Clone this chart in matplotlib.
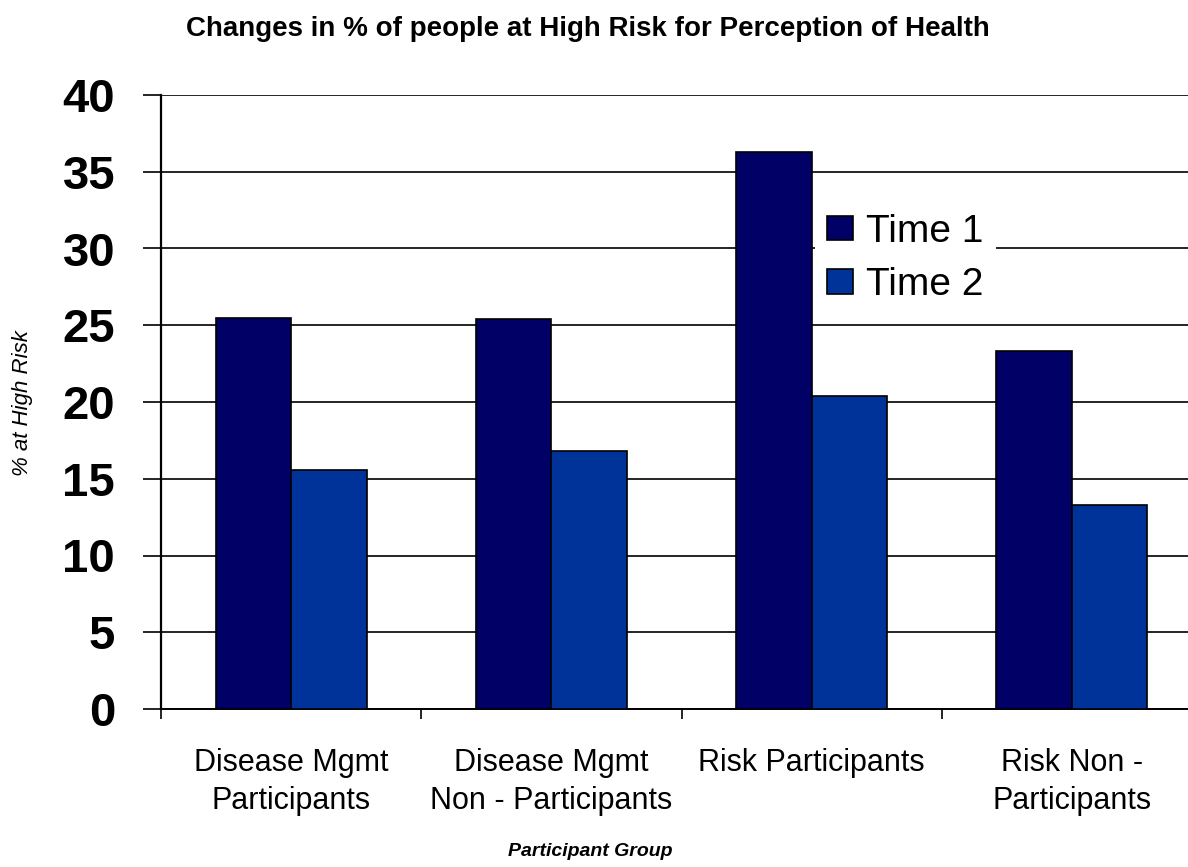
import matplotlib
matplotlib.use("Agg")
import matplotlib.pyplot as plt
import numpy as np
from matplotlib.ticker import FixedLocator, NullFormatter

# Survey results: percentage of people at high risk for perception of health
groups = ["Disease Mgmt\nParticipants", "Disease Mgmt\nNon - Participants",
          "Risk Participants", "Risk Non -\nParticipants"]
series_names = ["Time 1", "Time 2"]
time1 = [25.5, 25.4, 36.3, 23.3]
time2 = [15.6, 16.8, 20.4, 13.3]
y_ticks = [0, 5, 10, 15, 20, 25, 30, 35, 40]

colors = ["#000066", "#003399"]

W, H = 1188, 867
fig = plt.figure(figsize=(W / 100, H / 100), dpi=100)
fig.patch.set_facecolor("white")

# plot area in pixel coordinates (right side runs past the figure edge)
left_px, right_px, top_px, bottom_px = 161, 1202, 95, 709
ax = fig.add_axes([left_px / W, 1 - bottom_px / H,
                   (right_px - left_px) / W, (bottom_px - top_px) / H])

x = np.arange(len(groups))
bw = 0.29
ax.bar(x - bw / 2, time1, width=bw, color=colors[0], edgecolor="black",
       linewidth=1.2, label=series_names[0], zorder=3)
ax.bar(x + bw / 2, time2, width=bw, color=colors[1], edgecolor="black",
       linewidth=1.2, label=series_names[1], zorder=3)

ax.set_xlim(-0.5, 3.5)
ax.set_ylim(0, 40)

# horizontal grid
ax.set_yticks(y_ticks)
ax.yaxis.grid(True, color="black", linewidth=1.2, zorder=0)
ax.set_axisbelow(True)
ax.tick_params(axis="y", direction="out", length=13, width=1.2, pad=20,
               labelsize=34)
for lbl in ax.get_yticklabels():
    lbl.set_fontweight("bold")
    lbl.set_fontfamily("Liberation Sans")

# category separators as major ticks, labels centred on minor ticks
ax.xaxis.set_major_locator(FixedLocator(np.arange(-0.5, 4.0, 1.0)))
ax.xaxis.set_major_formatter(NullFormatter())
ax.xaxis.set_minor_locator(FixedLocator(x))
ax.set_xticklabels(groups, minor=True, fontsize=22, family="Liberation Sans",
                   linespacing=1.35)
ax.tick_params(axis="x", which="major", direction="out", length=7.5, width=1.2)
ax.tick_params(axis="x", which="minor", length=0, pad=28)

for side in ["top", "right"]:
    ax.spines[side].set_visible(False)
ax.spines["left"].set_linewidth(1.6)
ax.spines["bottom"].set_linewidth(1.4)

leg = ax.legend(loc="upper left", bbox_to_anchor=(815 / W, 1 - 202 / H),
                bbox_transform=fig.transFigure, frameon=True,
                facecolor="white", edgecolor="none", framealpha=1,
                fancybox=False, prop={"family": "Liberation Sans", "size": 28},
                handlelength=0.67, handleheight=0.6, handletextpad=0.35,
                labelspacing=0.45, borderpad=0.3, borderaxespad=0)
leg.set_zorder(5)

fig.text(588 / W, 1 - 29 / H,
         "Changes in % of people at High Risk for Perception of Health",
         ha="center", va="center", fontsize=20, fontweight="bold",
         family="Liberation Sans")
fig.text(23 / W, 1 - 403 / H, "% at High Risk", rotation=90,
         ha="center", va="center", fontsize=16, fontstyle="italic",
         family="Liberation Sans")
fig.text(590 / W, 1 - 851 / H, "Participant Group", ha="center", va="center",
         fontsize=14, fontweight="bold", fontstyle="italic",
         family="Liberation Sans")

fig.savefig("out.png", dpi=100, facecolor="white")
